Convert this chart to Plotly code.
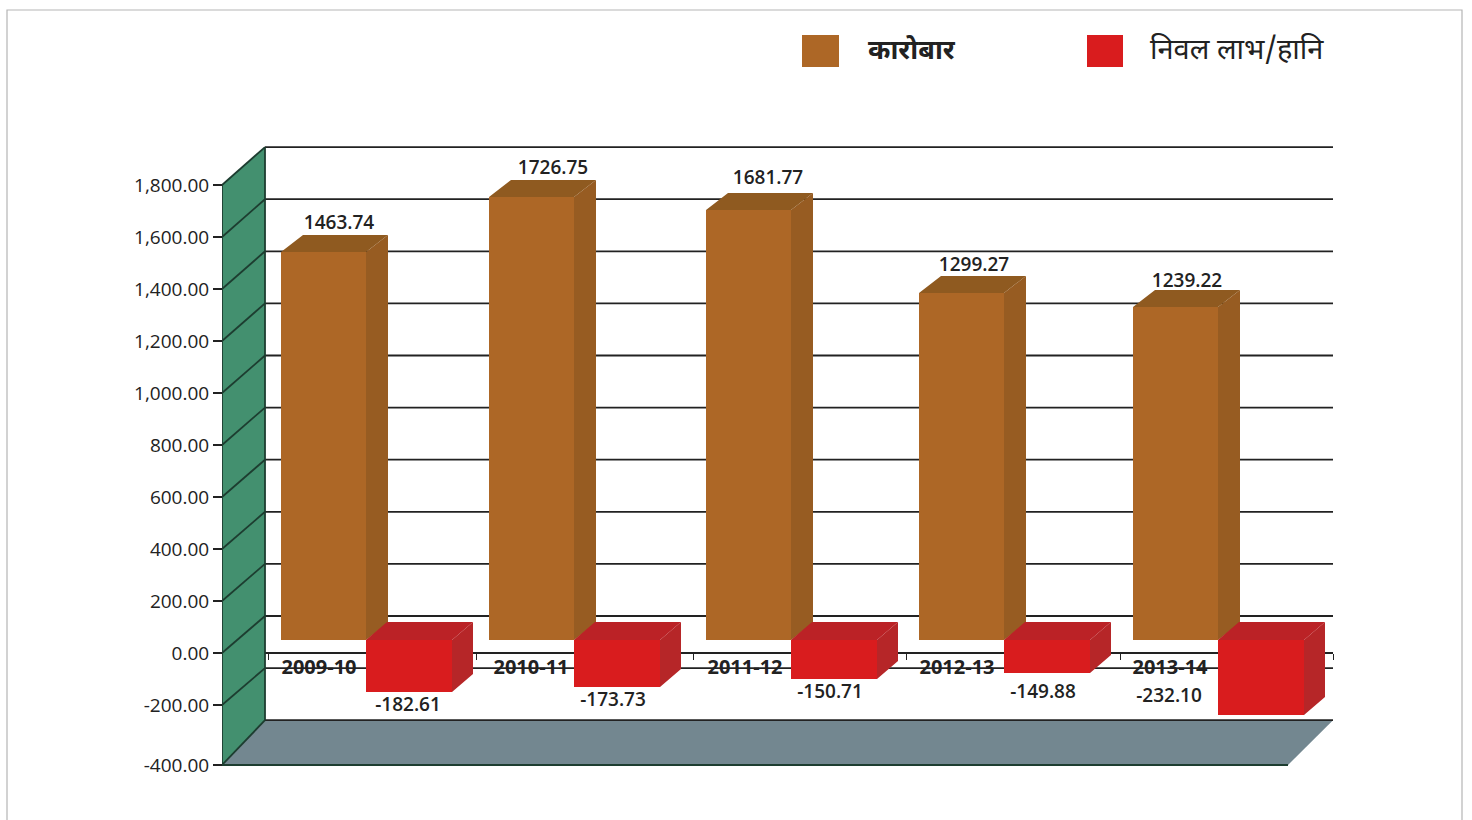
import plotly.graph_objects as go

# ---------- data ----------
years = ["2009-10", "2010-11", "2011-12", "2012-13", "2013-14"]
turnover_labels = ["1463.74", "1726.75", "1681.77", "1299.27", "1239.22"]
net_labels = ["-182.61", "-173.73", "-150.71", "-149.88", "-232.10"]
# bar heights as they are drawn in the picture (the printed labels differ a little)
turnover_drawn = [1492, 1704, 1654, 1335, 1281]
net_drawn = [-200, -181, -150, -127, -288]
axis_values = [1800, 1600, 1400, 1200, 1000, 800, 600, 400, 200, 0, -200, -400]
axis_labels = ["1,800.00", "1,600.00", "1,400.00", "1,200.00", "1,000.00", "800.00",
               "600.00", "400.00", "200.00", "0.00", "-200.00", "-400.00"]
legend_names = ["कारोबार", "निवल लाभ/हानि"]

# ---------- geometry ----------
W, H = 1472, 820
PX_PER_GROUP = 213.0
PX_PER_UNIT = 0.26
X0_PX = 366
BASE_PX = 640          # main axis zero
FRONT_ZERO_PX = 653    # printed axis zero
LEFT, RIGHT, TOP, BOTTOM = 222, 1333, 140, 770


def ux(px):
    return px / PX_PER_GROUP


def uy(px):
    return px / PX_PER_UNIT


def ax_x(px):
    return (px - X0_PX) / PX_PER_GROUP


def ax_y(px):
    return (BASE_PX - px) / PX_PER_UNIT


group_nudge = [0, -5, -1, -1, 0]
pos = [i + ux(n) for i, n in enumerate(group_nudge)]

BW_T, BW_N = ux(85), ux(86)
DX_T, DY_T = ux(22), uy(17)
DX_N, DY_N = ux(21), uy(18)

BROWN, BROWN_SIDE, BROWN_TOP = "#ad6726", "#975c22", "#8f5a20"
RED, RED_SIDE, RED_TOP = "#d91c1e", "#b62628", "#bb2226"
WALL, FLOOR, INK = "#43906f", "#738790", "#222222"
FONT = "Open Sans"

WALL_F, WALL_B = ax_x(222), ax_x(265)
END = ax_x(1333)


# printed axis value -> height on the back wall / on the front edge of the side wall
def back_y(v):
    return ax_y(616 - v * 52.1 / 200)


def front_y(v):
    if v == -400:
        return ax_y(765)
    return ax_y(FRONT_ZERO_PX - v * PX_PER_UNIT)


def polys(items):
    xs, ys = [], []
    for p in items:
        xs += [q[0] for q in p] + [p[0][0], None]
        ys += [q[1] for q in p] + [p[0][1], None]
    return xs, ys


def fill(items, color, z):
    xs, ys = polys(items)
    return go.Scatter(x=xs, y=ys, mode="lines", fill="toself", fillcolor=color,
                      line=dict(width=0, color=color), hoverinfo="skip", zorder=z,
                      cliponaxis=False)


def lines(segs, color, width, z):
    xs, ys = [], []
    for a, b in segs:
        xs += [a[0], b[0], None]
        ys += [a[1], b[1], None]
    return go.Scatter(x=xs, y=ys, mode="lines", line=dict(color=color, width=width),
                      hoverinfo="skip", zorder=z, cliponaxis=False)


fig = go.Figure()

# side wall and floor
fig.add_trace(fill([[(WALL_F, front_y(1800)), (WALL_B, back_y(1800)),
                     (WALL_B, back_y(-400)), (WALL_F, front_y(-400))]], WALL, 1))
fig.add_trace(fill([[(WALL_F, front_y(-400)), (WALL_B, back_y(-400)),
                     (END, back_y(-400)), (ax_x(1288), front_y(-400))]], FLOOR, 1))
# gridlines
fig.add_trace(lines([((WALL_B, back_y(v)), (END, back_y(v))) for v in axis_values]
                    + [((WALL_B, front_y(0)), (END, front_y(0)))],
                    INK, 1.8, 1))
fig.add_trace(lines([((WALL_F, front_y(v)), (WALL_B, back_y(v))) for v in axis_values],
                    "#1d3d30", 1.8, 1))
fig.add_trace(lines([((WALL_B, back_y(1800)), (WALL_B, back_y(-400))),
                     ((WALL_F, front_y(1800)), (WALL_F, front_y(-400))),
                     ((WALL_F, front_y(-400)), (ax_x(1288), front_y(-400)))],
                    "#1d3d30", 1.8, 1))

# turnover bars: side + top then front
fig.add_trace(fill([[(p, v), (p + DX_T, v + DY_T), (p + DX_T, DY_T), (p, 0)]
                    for p, v in zip(pos, turnover_drawn)], BROWN_SIDE, 2))
fig.add_trace(fill([[(p - BW_T, v), (p - BW_T + DX_T, v + DY_T), (p + DX_T, v + DY_T), (p, v)]
                    for p, v in zip(pos, turnover_drawn)], BROWN_TOP, 2))
fig.add_trace(go.Bar(x=pos, y=turnover_drawn, width=BW_T, offset=-BW_T, marker_color=BROWN,
                     marker_line_width=0, name=legend_names[0], hoverinfo="y", zorder=3))

# net profit / loss bars
fig.add_trace(fill([[(p + BW_N, 0), (p + BW_N + DX_N, DY_N), (p + BW_N + DX_N, v + DY_N), (p + BW_N, v)]
                    for p, v in zip(pos, net_drawn)], RED_SIDE, 4))
fig.add_trace(fill([[(p, 0), (p + DX_N, DY_N), (p + BW_N + DX_N, DY_N), (p + BW_N, 0)]
                    for p, v in zip(pos, net_drawn)], RED_TOP, 4))
fig.add_trace(go.Bar(x=pos, y=net_drawn, width=BW_N, offset=0, marker_color=RED,
                     marker_line_width=0, name=legend_names[1], hoverinfo="y", zorder=5))

# value labels
t_dx, t_dy = [-27, -21, -23, -30, -31], [28, 28, 31, 27, 25]
n_dx, n_dy = [42, 39, 39, 39, -49], [-14, -14, -14, -20, 18]
label_font = dict(family=FONT, size=19, color=INK, weight=600)
fig.add_trace(go.Scatter(x=[p + ux(d) for p, d in zip(pos, t_dx)],
                         y=[v + uy(d) for v, d in zip(turnover_drawn, t_dy)],
                         mode="text", text=turnover_labels, textposition="middle center",
                         textfont=label_font, hoverinfo="skip", zorder=6, cliponaxis=False))
fig.add_trace(go.Scatter(x=[p + ux(d) for p, d in zip(pos, n_dx)],
                         y=[v + uy(d) for v, d in zip(net_drawn, n_dy)],
                         mode="text", text=net_labels, textposition="middle center",
                         textfont=label_font, hoverinfo="skip", zorder=6, cliponaxis=False))

# carrier for the printed value axis
tick_positions = [(front_y(v) - ax_y(FRONT_ZERO_PX)) for v in axis_values]
fig.add_trace(go.Scatter(x=[pos[0]] * len(axis_values), y=tick_positions, yaxis="y2",
                         mode="markers", marker=dict(opacity=0), hoverinfo="skip"))

cat_dx = [-47, -43, -46, -47, -48]
boundaries = [p - ux(98) for p in pos] + [END]

dom_y = [(H - BOTTOM) / H, (H - TOP) / H]
shapes = [
    dict(type="path", xref="paper", yref="paper", line=dict(color="#b5b5b5", width=1.2),
         path=f"M {7 / W} 0 L {7 / W} {1 - 10 / H} L {1462 / W} {1 - 10 / H} L {1462 / W} 0"),
    dict(type="rect", xref="paper", yref="paper", x0=802 / W, x1=839 / W,
         y0=1 - 67 / H, y1=1 - 35 / H, fillcolor=BROWN, line_width=0),
    dict(type="rect", xref="paper", yref="paper", x0=1087 / W, x1=1123 / W,
         y0=1 - 67 / H, y1=1 - 35 / H, fillcolor=RED, line_width=0),
]
legend_family = "Noto Sans Devanagari, Noto Sans, sans-serif"
annotations = [
    dict(xref="paper", yref="paper", x=866 / W, y=1 - 52 / H, xanchor="left", yanchor="middle",
         text=legend_names[0], showarrow=False,
         font=dict(family=legend_family, size=27, color=INK, weight=700)),
    dict(xref="paper", yref="paper", x=1148 / W, y=1 - 52 / H, xanchor="left", yanchor="middle",
         text=legend_names[1], showarrow=False,
         font=dict(family=legend_family, size=29, color=INK)),
]

fig.update_layout(
    width=W, height=H + 8, autosize=False, margin=dict(l=0, r=0, t=0, b=0),
    paper_bgcolor="white", plot_bgcolor="rgba(0,0,0,0)", showlegend=False,
    barmode="overlay", bargap=0, shapes=shapes, annotations=annotations,
    xaxis=dict(domain=[LEFT / W, RIGHT / W], range=[ax_x(LEFT), ax_x(RIGHT)],
               anchor="free", position=(H - FRONT_ZERO_PX) / H, showgrid=False, zeroline=False,
               showline=False, layer="below traces",
               tickmode="array", tickvals=[p + ux(d) for p, d in zip(pos, cat_dx)], ticktext=years,
               ticks="", tickfont=dict(family=FONT, size=20, color=INK, weight=700),
               ticklabelstandoff=0,
               minor=dict(tickmode="array", tickvals=boundaries, ticks="outside", ticklen=6,
                          tickwidth=1.4, tickcolor=INK, showgrid=False)),
    yaxis=dict(domain=dom_y, range=[ax_y(BOTTOM), ax_y(TOP)], visible=False),
    yaxis2=dict(domain=dom_y, overlaying="y", anchor="free", position=LEFT / W, side="left",
                range=[ax_y(BOTTOM) + uy(FRONT_ZERO_PX - BASE_PX), ax_y(TOP) + uy(FRONT_ZERO_PX - BASE_PX)],
                tickmode="array", tickvals=tick_positions, ticktext=axis_labels,
                ticks="outside", ticklen=9, tickwidth=1.6, tickcolor=INK,
                tickfont=dict(family=FONT, size=19, color=INK, weight=500), showgrid=False,
                zeroline=False, showline=False),
)

fig.write_html("out.html", config=dict(displayModeBar=False),
               post_script="document.body.style.margin='0';")
